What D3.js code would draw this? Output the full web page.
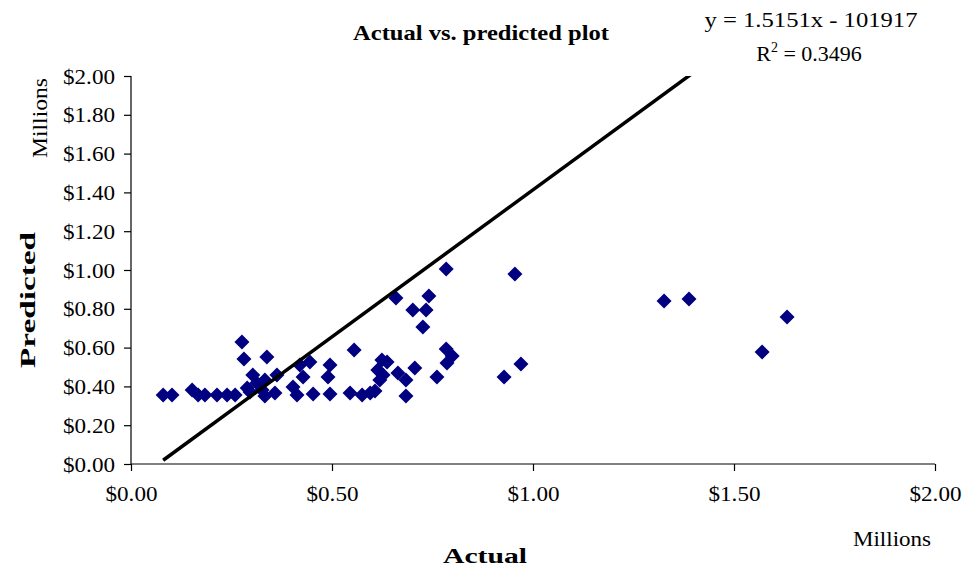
<!DOCTYPE html>
<html>
<head>
<meta charset="utf-8">
<script src="https://cdn.jsdelivr.net/npm/d3@7"></script>
<style>
  body { margin: 0; background: #fff; }
  svg text { font-family: "Liberation Serif", "Times New Roman", serif; fill: #000; }
</style>
</head>
<body>
<div id="chart"></div>
<script>
// actual / predicted values, in millions of dollars
var actual = [0.080, 0.102, 0.152, 0.167, 0.184, 0.214, 0.239, 0.259, 0.276, 0.281,
  0.303, 0.289, 0.313, 0.333, 0.333, 0.338, 0.363, 0.358, 0.403, 0.420,
  0.445, 0.428, 0.413, 0.453, 0.495, 0.490, 0.495, 0.545, 0.555, 0.575,
  0.595, 0.607, 0.614, 0.624, 0.637, 0.619, 0.664, 0.684, 0.684, 0.706,
  0.761, 0.784, 0.799, 0.786, 0.726, 0.701, 0.734, 0.659, 0.741, 0.784,
  0.928, 0.970, 0.955, 1.326, 1.388, 1.570, 1.632, 0.296, 0.326, 0.627];
var predicted = [0.356, 0.356, 0.381, 0.356, 0.356, 0.356, 0.356, 0.356, 0.629, 0.541,
  0.459, 0.392, 0.418, 0.433, 0.351, 0.552, 0.459, 0.366, 0.397, 0.510,
  0.526, 0.448, 0.356, 0.361, 0.510, 0.448, 0.361, 0.366, 0.588, 0.356,
  0.366, 0.376, 0.485, 0.536, 0.526, 0.433, 0.469, 0.433, 0.351, 0.495,
  0.448, 0.593, 0.557, 0.521, 0.706, 0.794, 0.794, 0.856, 0.866, 1.005,
  0.448, 0.515, 0.979, 0.840, 0.851, 0.577, 0.758, 0.371, 0.381, 0.459];
var xTicks = [0, 0.5, 1, 1.5, 2];
var yTicks = [0, 0.2, 0.4, 0.6, 0.8, 1.0, 1.2, 1.4, 1.6, 1.8, 2.0];
// trend line y = 1.5151x - 101917 (dollars)
var slope = 1.5151, intercept = -0.101917;

var width = 967, height = 567;
var pLeft = 131, pRight = 935, pTop = 76, pBottom = 464;

var svg = d3.select("#chart").append("svg")
  .attr("width", width)
  .attr("height", height);

var x = d3.scaleLinear().domain([0, 2]).range([pLeft, pRight]);
var y = d3.scaleLinear().domain([0, 2]).range([pBottom, pTop]);
var fmt = function(d) { return "$" + d3.format(".2f")(d); };

svg.append("defs").append("clipPath").attr("id", "plot")
  .append("rect")
  .attr("x", pLeft).attr("y", pTop)
  .attr("width", pRight - pLeft).attr("height", pBottom - pTop);

// axes
var yAxis = svg.append("g")
  .attr("transform", "translate(" + pLeft + ",0)")
  .call(d3.axisLeft(y).tickValues(yTicks).tickFormat(fmt).tickSize(7).tickPadding(9));
var xAxis = svg.append("g")
  .attr("transform", "translate(0," + pBottom + ")")
  .call(d3.axisBottom(x).tickValues(xTicks).tickFormat(fmt).tickSize(7).tickPadding(14));

[xAxis, yAxis].forEach(function(a) {
  a.select(".domain").attr("stroke", "#000").attr("stroke-width", 1.2);
  a.selectAll(".tick line").attr("stroke", "#000").attr("stroke-width", 1.2);
  a.selectAll("text")
    .attr("font-family", "Liberation Serif")
    .attr("font-size", 22)
    .attr("fill", "#000")
    .attr("textLength", 52)
    .attr("lengthAdjust", "spacingAndGlyphs");
});
// no outer tick stubs on the axis lines
yAxis.select(".domain").attr("d", "M0," + pTop + "V" + pBottom);
xAxis.select(".domain").attr("d", "M" + pLeft + ",0H" + pRight);

// points
var pts = actual.map(function(a, i) { return [a, predicted[i]]; });
svg.append("g").selectAll("path")
  .data(pts)
  .enter().append("path")
  .attr("transform", function(d) { return "translate(" + x(d[0]) + "," + y(d[1]) + ")"; })
  .attr("d", "M0,-7.5L7.5,0L0,7.5L-7.5,0Z")
  .attr("fill", "#000080");

// trend line over the data range
var xr = d3.extent(actual);
svg.append("line")
  .attr("clip-path", "url(#plot)")
  .attr("x1", x(xr[0])).attr("y1", y(slope * xr[0] + intercept))
  .attr("x2", x(xr[1])).attr("y2", y(slope * xr[1] + intercept))
  .attr("stroke", "#000")
  .attr("stroke-width", 3.5);

// titles
function label(txt, cx, cy, len, bold, rot) {
  var t = svg.append("text")
    .attr("transform", "translate(" + cx + "," + cy + ")" + (rot ? " rotate(-90)" : ""))
    .attr("text-anchor", "middle")
    .attr("font-size", 22)
    .attr("font-weight", bold ? "bold" : "normal")
    .attr("textLength", len)
    .attr("lengthAdjust", "spacingAndGlyphs")
    .text(txt);
  return t;
}

label("Actual vs. predicted plot", 481, 40, 256, true);
label("y = 1.5151x - 101917", 811, 27, 213, false);

var r2 = svg.append("text")
  .attr("x", 809).attr("y", 61)
  .attr("text-anchor", "middle")
  .attr("font-size", 22);
r2.append("tspan").text("R");
r2.append("tspan").attr("dy", -9).attr("font-size", 14).text("2");
r2.append("tspan").attr("dy", 9).text(" = 0.3496");

label("Millions", 47, 118, 80, false, true);
label("Predicted", 35, 300, 136, true, true);
label("Actual", 485, 563, 84, true);
label("Millions", 892, 546, 78, false);
</script>
</body>
</html>
